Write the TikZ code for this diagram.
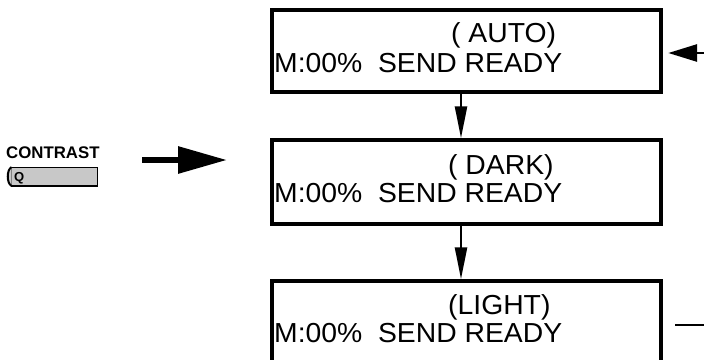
\documentclass[tikz,border=0pt]{standalone}
\usepackage{fontspec}
\setmainfont{Liberation Sans}
\newfontfamily\lcdfont[FakeStretch=1.03]{Liberation Sans}
\usetikzlibrary{arrows.meta}
\definecolor{keygray}{RGB}{200, 200, 200}

\tikzset{
  lcdbox/.style={draw, line width=3.4pt, minimum width=389pt, minimum height=84pt, inner sep=0pt},
  lcdtext/.style={anchor=base west, inner sep=0pt, font=\lcdfont\fontsize{27.5}{30}\selectfont},
  steparrow/.style={line width=2.4pt, -{Triangle[length=32pt, width=12pt]}},
  looparrow/.style={line width=2.8pt, -{Triangle[length=29pt, width=17pt]}},
  pressarrow/.style={line width=6pt, -{Triangle[length=49pt, width=26pt]}}
}

\begin{document}
\begin{tikzpicture}[x=1pt, y=-1pt]
    \clip (0,0) rectangle (704,359);

    % Display boxes
    \node[lcdbox, minimum height=82pt] (auto) at (466.5,51) {};
    \node[lcdbox] (dark) at (466.5,182) {};
    \node[lcdbox] (light) at (466.5,323) {};

    % Display texts
    \node[lcdtext] (autotop) at (451,42) {( AUTO)};
    \node[lcdtext] (autobot) at (274,72) {M:00\%\ \ SEND READY};
    \node[lcdtext] (darktop) at (448,174) {( DARK)};
    \node[lcdtext] (darkbot) at (274,202) {M:00\%\ \ SEND READY};
    \node[lcdtext] (lighttop) at (448,314) {(LIGHT)};
    \node[lcdtext] (lightbot) at (274,342) {M:00\%\ \ SEND READY};

    % Steps down
    \draw[steparrow] ([xshift=-5.5pt]auto.south) -- ([xshift=-5.5pt]dark.north);
    \draw[steparrow] ([xshift=-5.5pt]dark.south) -- ([xshift=-5.5pt]light.north);

    % Back to the top
    \coordinate (loopin) at (704,53);
    \coordinate (loopout) at (704,325);
    \draw[looparrow, shorten >=5.5pt] (loopin) -- (auto.east |- loopin);
    \draw[line width=2.8pt, shorten <=12.5pt] (light.east |- loopout) -- (loopout);

    % Contrast key
    \node[anchor=base west, inner sep=0pt, font=\fontsize{16.8}{18}\selectfont\bfseries]
        (contrast) at (6,158) {CONTRAST};
    \node[draw, line width=1pt, fill=keygray, minimum width=86pt, minimum height=18pt,
          inner sep=0pt] (qkey) at (54,176.5) {};
    \fill[keygray] ([xshift=1pt]qkey.north west) .. controls +(-5,3) and +(-5,-3)
        .. ([xshift=1pt]qkey.south west) -- cycle;
    \draw[line width=2pt] ([xshift=1pt]qkey.north west) .. controls +(-5,3) and +(-5,-3)
        .. ([xshift=1pt]qkey.south west);
    \draw[line width=1.8pt] (qkey.south west) -- (qkey.south east);
    \node[anchor=base west, inner sep=0pt, font=\fontsize{13}{13}\selectfont\bfseries]
        (qlabel) at (14,181) {Q};

    \coordinate (pressfrom) at (142,160);
    \coordinate (pressto) at (227,160);
    \draw[pressarrow] (pressfrom) -- (pressto);
\end{tikzpicture}
\end{document}
